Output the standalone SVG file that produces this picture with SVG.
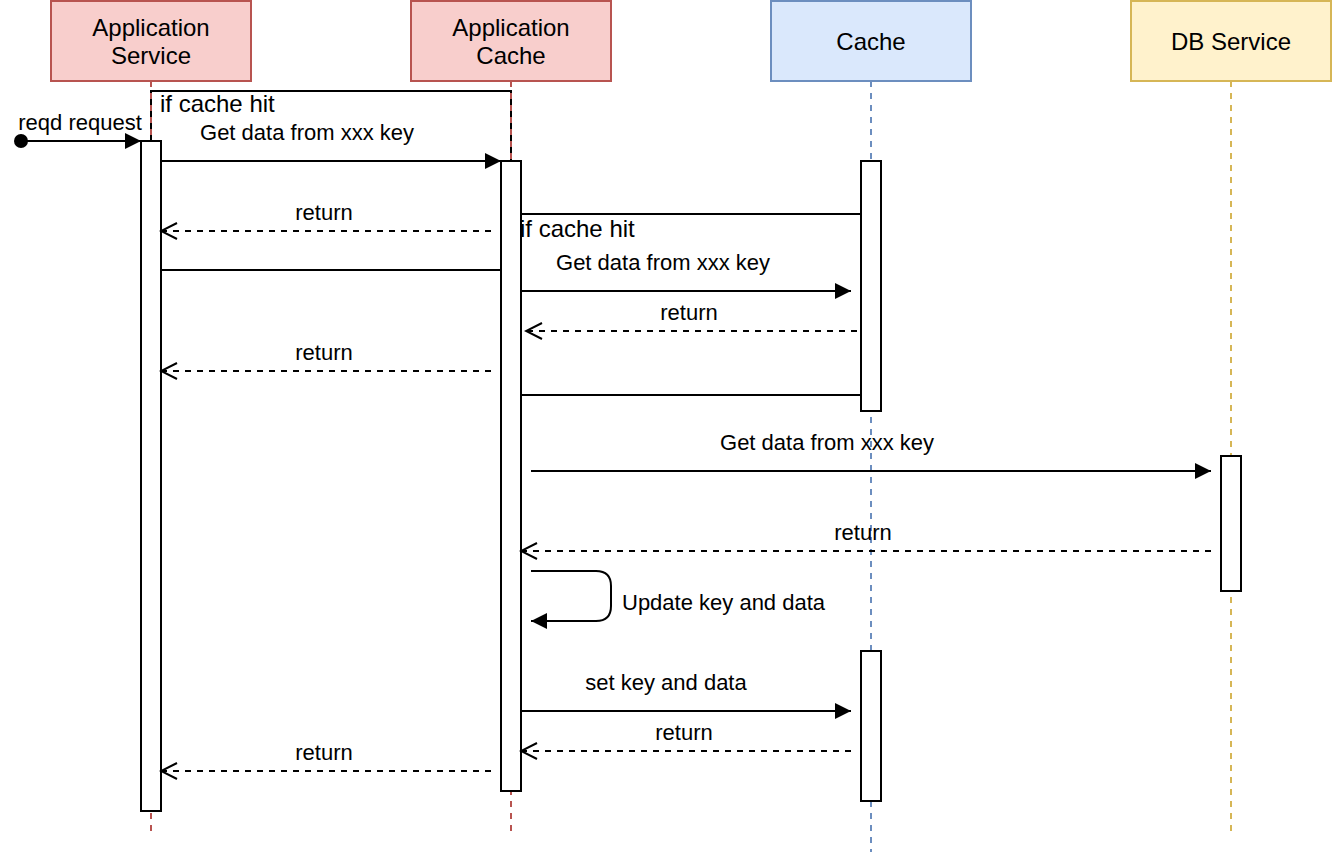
<svg xmlns="http://www.w3.org/2000/svg" width="1332" height="852" viewBox="0 0 1332 852">
<defs>
<marker id="block" viewBox="0 0 16 16" refX="16" refY="8" markerWidth="16" markerHeight="16" markerUnits="userSpaceOnUse" orient="auto">
<path d="M0,0 L16,8 L0,16 Z" fill="#000"/>
</marker>
<marker id="open" viewBox="0 0 20 20" refX="18" refY="10" markerWidth="20" markerHeight="20" markerUnits="userSpaceOnUse" orient="auto">
<path d="M2,2 L18,10 L2,18" fill="none" stroke="#000" stroke-width="2"/>
</marker>
</defs>
<style>
text{font-family:"Liberation Sans",Arial,Helvetica,sans-serif;fill:#000}
.head{font-size:24px;text-anchor:middle}
.lbl{font-size:22px;text-anchor:middle}
.frm{font-size:24px}
.life{fill:none;stroke-width:2;stroke-dasharray:6 6}
.act{fill:#fff;stroke:#000;stroke-width:2}
.msg{fill:none;stroke:#000;stroke-width:2}
.ret{fill:none;stroke:#000;stroke-width:2;stroke-dasharray:6 6}
.frame{fill:none;stroke:#000;stroke-width:2}
</style>
<rect width="1332" height="852" fill="#fff"/>
<g id="frames">
<rect class="frame" x="151" y="91" width="360" height="179"/>
<text class="frm" x="160" y="112">if cache hit</text>
</g>
<g id="lifelines">
<line class="life" x1="151" y1="81" x2="151" y2="832" stroke="#b85450"/>
<line class="life" x1="511" y1="81" x2="511" y2="832" stroke="#b85450"/>
<line class="life" x1="871" y1="81" x2="871" y2="852" stroke="#6c8ebf"/>
<line class="life" x1="1231" y1="81" x2="1231" y2="832" stroke="#d6b656"/>
</g>
<g id="app-service">
<rect x="51" y="1" width="200" height="80" fill="#f8cecc" stroke="#b85450" stroke-width="2"/>
<text class="head" x="151" y="36">Application</text>
<text class="head" x="151" y="64">Service</text>
<rect class="act" x="141" y="141" width="20" height="670"/>
</g>
<g id="app-cache">
<rect x="411" y="1" width="200" height="80" fill="#f8cecc" stroke="#b85450" stroke-width="2"/>
<text class="head" x="511" y="36">Application</text>
<text class="head" x="511" y="64">Cache</text>
<rect class="act" x="501" y="161" width="20" height="630"/>
</g>
<g id="cache">
<rect x="771" y="1" width="200" height="80" fill="#dae8fc" stroke="#6c8ebf" stroke-width="2"/>
<text class="head" x="871" y="50">Cache</text>
<rect class="act" x="861" y="161" width="20" height="250"/>
<rect class="act" x="861" y="651" width="20" height="150"/>
</g>
<g id="db-service">
<rect x="1131" y="1" width="200" height="80" fill="#fff2cc" stroke="#d6b656" stroke-width="2"/>
<text class="head" x="1231" y="50">DB Service</text>
<rect class="act" x="1221" y="456" width="20" height="135"/>
</g>
<g id="frame2">
<line class="frame" x1="521" y1="214" x2="861" y2="214"/>
<line class="frame" x1="521" y1="395" x2="861" y2="395"/>
<text class="frm" x="520" y="237">if cache hit</text>
</g>
<g id="connectors">
<circle cx="21" cy="141" r="7" fill="#000"/>
<line class="msg" x1="21" y1="141" x2="141" y2="141" marker-end="url(#block)"/>
<text class="lbl" x="80" y="130">reqd request</text>
<line class="msg" x1="161" y1="161" x2="501" y2="161" marker-end="url(#block)"/>
<text class="lbl" x="307" y="140">Get data from xxx key</text>
<line class="ret" x1="491" y1="231" x2="161" y2="231" marker-end="url(#open)"/>
<text class="lbl" x="324" y="220">return</text>
<line class="msg" x1="161" y1="270" x2="501" y2="270"/>
<line class="msg" x1="521" y1="291" x2="851" y2="291" marker-end="url(#block)"/>
<text class="lbl" x="663" y="270">Get data from xxx key</text>
<line class="ret" x1="857" y1="331" x2="526" y2="331" marker-end="url(#open)"/>
<text class="lbl" x="689" y="320">return</text>
<line class="ret" x1="491" y1="371" x2="161" y2="371" marker-end="url(#open)"/>
<text class="lbl" x="324" y="360">return</text>
<line class="msg" x1="531" y1="471" x2="1211" y2="471" marker-end="url(#block)"/>
<text class="lbl" x="827" y="450">Get data from xxx key</text>
<line class="ret" x1="1211" y1="551" x2="521" y2="551" marker-end="url(#open)"/>
<text class="lbl" x="863" y="540">return</text>
<path class="msg" d="M531,571 L596,571 Q611,571 611,586 L611,606 Q611,621 596,621 L531,621" marker-end="url(#block)"/>
<text class="lbl" x="622" y="610" text-anchor="start" style="text-anchor:start">Update key and data</text>
<line class="msg" x1="521" y1="711" x2="851" y2="711" marker-end="url(#block)"/>
<text class="lbl" x="666" y="690">set key and data</text>
<line class="ret" x1="851" y1="751" x2="521" y2="751" marker-end="url(#open)"/>
<text class="lbl" x="684" y="740">return</text>
<line class="ret" x1="491" y1="771" x2="161" y2="771" marker-end="url(#open)"/>
<text class="lbl" x="324" y="760">return</text>
</g>
</svg>
